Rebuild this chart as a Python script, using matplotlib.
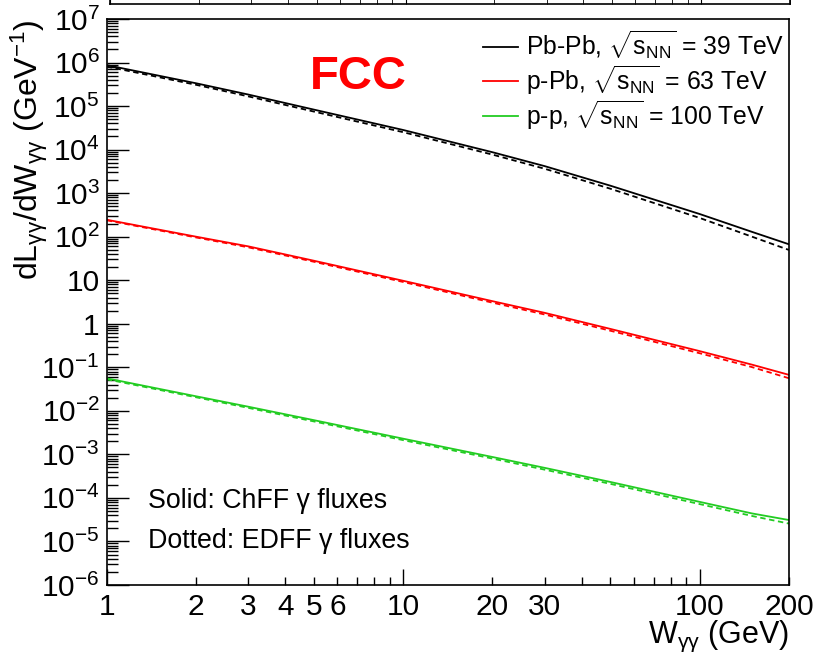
import math
import matplotlib
matplotlib.use("Agg")
import matplotlib.pyplot as plt
from matplotlib.ticker import LogLocator, FixedLocator, FuncFormatter, NullFormatter

plt.rcParams['font.family'] = ['Liberation Sans', 'DejaVu Sans']
plt.rcParams['mathtext.fontset'] = 'custom'
plt.rcParams['mathtext.rm'] = 'Liberation Sans'
plt.rcParams['mathtext.it'] = 'Liberation Sans:italic'
plt.rcParams['mathtext.bf'] = 'Liberation Sans:bold'

# W_gamma-gamma (GeV)
w = [1, 2, 3, 5, 10, 20, 30, 50, 100, 150, 200]

# dL/dW, solid = ChFF, dashed = EDFF
pbpb_chff = [8.71e5, 3.34e5, 1.84e5, 8.28e4, 2.82e4, 8.7e3, 4.17e3, 1.48e3, 331, 129, 66.8]
pbpb_edff = [8.1e5, 3.08e5, 1.67e5, 7.46e4, 2.51e4, 7.67e3, 3.63e3, 1.26e3, 269, 100, 49.5]
ppb_chff = [245, 100, 60, 28, 9.7, 3.3, 1.78, 0.76, 0.235, 0.115, 0.067]
ppb_edff = [238, 96, 57, 26.5, 9.1, 3.05, 1.63, 0.69, 0.21, 0.101, 0.056]
pp_chff = [0.0558, 0.0216, 0.01245, 6.1e-3, 2.29e-3, 8.7e-4, 4.9e-4, 2.32e-4, 8.1e-5, 4.4e-5, 3.1e-5]
pp_edff = [0.053, 0.0205, 0.0117, 5.7e-3, 2.12e-3, 8.0e-4, 4.45e-4, 2.1e-4, 7.2e-5, 3.85e-5, 2.57e-5]

labels = [r'Pb-Pb, $\sqrt{\mathrm{s}_{\mathrm{NN}}}$ = 39 TeV',
          r'p-Pb, $\sqrt{\mathrm{s}_{\mathrm{NN}}}$ = 63 TeV',
          r'p-p, $\sqrt{\mathrm{s}_{\mathrm{NN}}}$ = 100 TeV']
colors = ['black', '#ff0000', '#22cc22']

x_labelled = [1, 2, 3, 4, 5, 6, 10, 20, 30, 100, 200]

fig = plt.figure(figsize=(8.17, 6.52), dpi=100)
ax = fig.add_axes([0.1306, 0.1028, 0.8351, 0.8681])

series = [(pbpb_chff, pbpb_edff), (ppb_chff, ppb_edff), (pp_chff, pp_edff)]
handles = []
for (solid, dashed), c, lab in zip(series, colors, labels):
    h, = ax.plot(w, solid, color=c, lw=1.3, label=lab)
    ax.plot(w, dashed, color=c, lw=1.3, dashes=(3, 2))
    handles.append(h)

ax.set_xscale('log')
ax.set_yscale('log')
ax.set_xlim(1, 200)
ax.set_ylim(1e-6, 1e7)

ax.yaxis.set_major_locator(LogLocator(base=10, numticks=20))
ax.yaxis.set_minor_locator(LogLocator(base=10, subs=range(2, 10), numticks=200))
ax.yaxis.set_minor_formatter(NullFormatter())


def yfmt(v, pos):
    e = int(round(math.log10(v)))
    if e == 0:
        return '1'
    if e == 1:
        return '10'
    return r'$\mathregular{10^{%d}}$' % e


ax.yaxis.set_major_formatter(FuncFormatter(yfmt))

ax.xaxis.set_major_locator(FixedLocator([1, 10, 100]))
ax.xaxis.set_minor_locator(LogLocator(base=10, subs=range(2, 10), numticks=50))
ax.xaxis.set_major_formatter(NullFormatter())
ax.xaxis.set_minor_formatter(NullFormatter())
for xv in x_labelled:
    ax.text(xv, -0.014, str(xv), transform=ax.get_xaxis_transform(),
            ha='center', va='top', fontsize=21.5)

ax.tick_params(which='both', direction='in', top=False, right=False, width=1)
ax.tick_params(axis='y', which='major', length=15.8)
ax.tick_params(axis='y', which='minor', length=7.9)
ax.tick_params(axis='x', which='major', length=11.5)
ax.tick_params(axis='x', which='minor', length=5.8)
ax.tick_params(axis='y', labelsize=21.5, pad=5)
for s in ax.spines.values():
    s.set_linewidth(1.2)

ax.set_ylabel(r'dL$_{\mathrm{γγ}}$/dW$_{\mathrm{γγ}}$ (GeV$^{\mathrm{-1}}$)',
              fontsize=23, loc='top')
ax.yaxis.set_label_coords(-0.083, 1.0)
ax.set_xlabel(r'W$_{\mathrm{γγ}}$ (GeV)', fontsize=22, loc='right')
ax.xaxis.set_label_coords(1.0, -0.059)

ax.text(0.298, 0.898, 'FCC', transform=ax.transAxes, color='#ff0000',
        fontsize=34, fontweight='bold', ha='left', va='center')

ax.legend(handles=handles, loc='upper right', bbox_to_anchor=(1.009, 1.0),
          fontsize=17.8, frameon=False, handlelength=1.4, handletextpad=0.35,
          labelspacing=0.06, borderaxespad=0.02)

ax.text(0.06, 0.148, 'Solid: ChFF γ fluxes', transform=ax.transAxes,
        fontsize=19.3, ha='left', va='center')
ax.text(0.06, 0.078, 'Dotted: EDFF γ fluxes', transform=ax.transAxes,
        fontsize=19.3, ha='left', va='center')

# remnant of the panel above
top = fig.add_axes([110 / 817, 1 - 4 / 652, 680 / 817, 0.1])
top.set_xscale('log')
top.set_xlim(0.1, 20)
top.spines['top'].set_visible(False)
for k in ['bottom', 'left', 'right']:
    top.spines[k].set_linewidth(1.2)
top.set_yticks([])
top.tick_params(which='both', direction='in', labelbottom=False, length=10)
top.patch.set_alpha(0)

fig.savefig('out.png', dpi=100)
